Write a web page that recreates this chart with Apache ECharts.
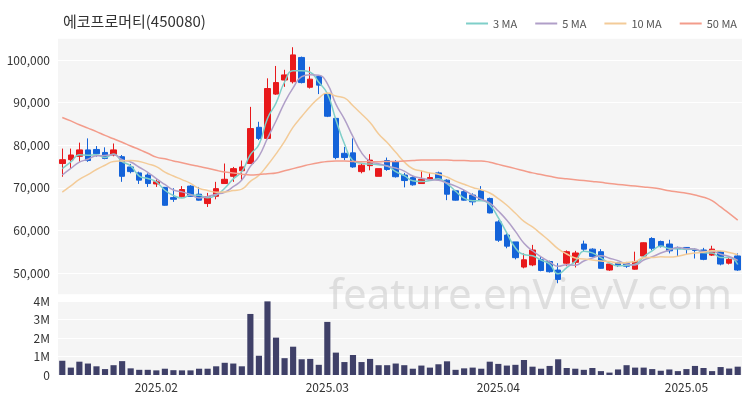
<!DOCTYPE html>
<html><head><meta charset="utf-8">
<script src="https://cdn.jsdelivr.net/npm/echarts@6/dist/echarts.min.js"></script>
<style>html,body{margin:0;padding:0;background:#fff}#c{width:750px;height:400px}</style>
</head><body><div id="c"></div>
<script>
const title = "에코프로머티(450080)";
const dates = (function(){
  const d=[];
  [13,14,15,16,17,20,21,22,23,24,31].forEach(x=>d.push("2025-01-"+String(x).padStart(2,"0")));
  [3,4,5,6,7,10,11,12,13,14,17,18,19,20,21,24,25,26,27,28].forEach(x=>d.push("2025-02-"+String(x).padStart(2,"0")));
  [4,5,6,7,10,11,12,13,14,17,18,19,20,21,24,25,26,27,28,31].forEach(x=>d.push("2025-03-"+String(x).padStart(2,"0")));
  [1,2,3,4,7,8,9,10,11,14,15,16,17,18,21,22,23,24,25,28,29,30].forEach(x=>d.push("2025-04-"+String(x).padStart(2,"0")));
  [2,7,8,9,12,13,14].forEach(x=>d.push("2025-05-"+String(x).padStart(2,"0")));
  return d;
})();
// [open, close, low, high] in thousands KRW
const candles = [
[75.7,76.6,72.6,79.2],[76.6,77.7,74.5,79.2],[77.4,78.9,76.1,80.6],[78.9,76.4,76.1,81.6],[79.0,78.0,77.3,79.8],
[78.3,76.9,76.7,79.5],[77.7,78.9,77.4,80.4],[77.3,72.7,71.4,77.7],[74.9,73.8,73.4,75.6],[73.5,71.8,70.9,73.8],
[73.0,71.0,70.2,73.4],[70.9,71.4,70.2,72.0],[70.1,65.9,65.8,70.2],[67.7,67.3,66.7,69.9],[67.9,69.6,67.7,70.4],
[70.4,68.0,67.9,70.6],[68.5,67.1,67.0,70.2],[66.3,67.9,65.5,68.8],[68.0,69.8,67.3,71.4],[71.0,72.0,70.9,75.7],
[72.7,74.5,71.4,74.9],[74.0,74.9,71.8,76.4],[75.7,83.9,75.6,89.0],[84.2,81.6,81.2,85.5],[81.6,93.3,81.4,95.7],
[92.0,94.7,91.8,98.6],[95.3,96.5,93.7,97.7],[94.9,101.2,94.5,103.0],[100.6,94.7,94.5,100.8],[93.6,95.5,93.3,98.4],
[96.1,94.1,92.0,96.2],[92.0,86.8,86.6,92.2],[86.3,77.1,76.7,86.3],[78.1,77.1,76.5,79.6],[78.2,74.9,74.7,81.6],
[73.8,75.3,73.4,75.7],[75.2,76.5,74.1,77.9],[72.7,74.5,72.7,74.5],[76.4,74.3,74.0,77.1],[76.1,72.6,72.4,76.5],
[73.0,71.7,70.1,73.5],[72.4,70.7,70.5,72.7],[71.0,72.0,70.9,74.0],[72.0,72.4,71.8,73.5],[73.5,72.0,71.8,73.8],
[71.8,68.5,67.1,72.0],[69.3,67.1,67.0,69.5],[69.1,67.1,67.0,69.5],[68.3,66.7,65.9,68.7],[69.3,67.1,67.0,70.4],
[67.5,64.1,64.0,67.7],[62.0,57.7,57.3,62.4],[58.9,56.3,55.8,59.3],[57.3,53.6,53.2,57.3],[51.4,53.1,51.1,54.6],
[51.9,55.4,51.6,56.6],[53.1,50.6,50.4,53.9],[52.7,50.3,50.1,52.9],[50.7,48.5,47.6,52.3],[52.3,55.0,51.6,55.3],
[52.5,54.7,51.3,55.2],[56.8,55.6,55.0,57.6],[55.6,53.9,53.7,55.8],[55.0,51.1,51.0,55.6],[50.7,52.1,50.5,52.2],
[52.4,51.8,51.4,52.6],[52.2,51.6,51.2,52.6],[50.9,52.7,50.8,55.0],[54.0,57.1,53.8,57.2],[58.1,55.8,55.3,58.4],
[57.4,56.2,56.0,57.6],[56.8,55.2,54.6,57.8],[56.0,55.7,53.9,56.2],[56.0,55.7,54.5,56.1],[55.5,55.3,53.4,55.8],
[55.4,53.2,53.0,55.9],[54.2,55.6,54.0,56.4],[55.0,52.1,51.8,55.2],[52.3,53.2,52.0,53.5],[54.0,50.7,50.5,54.6]
];
// closes before the window (thousands), estimated so the moving averages begin where the picture shows
const prevCloses = [63,64,65,66,67,70,71.5,73,73.9];
// 50-day MA (thousands)
const ma50 = [86.5,85.7,84.8,84.0,83.2,82.3,81.5,80.7,79.8,79.0,78.1,77.2,
76.8,76.3,75.9,75.4,75.0,74.6,74.1,73.7,
73.5,73.2,73.0,73.1,73.3,73.5,
74.0,74.5,75.0,75.5,75.9,76.2,76.3,
76.3,76.2,76.1,76.1,76.1,76.2,76.2,76.3,76.4,76.5,76.5,76.5,76.5,76.4,76.4,76.3,76.3,
76.0,75.5,75.0,74.5,74.0,73.5,73.1,72.7,72.3,
72.1,71.9,71.7,71.5,71.3,71.0,70.8,70.6,70.4,70.2,70.0,
69.7,69.3,69.0,68.7,68.3,67.8,67.0,65.5,64.0,62.4];
// volume in millions of shares
const volumes = [.77,.40,.72,.62,.47,.32,.53,.75,.36,.28,.28,.25,.34,.26,.25,.25,.34,.34,.47,.66,
.62,.47,3.3,1.04,3.98,2.02,.91,1.53,.85,.87,.55,2.87,1.21,.70,1.08,.70,.87,.53,.53,.62,
.53,.34,.51,.40,.58,.74,.28,.36,.40,.34,.72,.60,.51,.55,.81,.45,.34,.49,.85,.38,
.34,.28,.38,.21,.13,.30,.53,.40,.40,.32,.23,.30,.21,.32,.49,.38,.21,.43,.35,.45];
const priceTicks = [50000,60000,70000,80000,90000,100000];

const UP='#e8191b', DOWN='#1463d9';
const closes = candles.map(c=>c[1]);
const all = prevCloses.concat(closes);
function ma(n){return closes.map((_,i)=>{const j=i+prevCloses.length;let s=0;for(let k=j-n+1;k<=j;k++)s+=all[k];return +(s/n*1000).toFixed(0);});}
const kData = candles.map(c=>c.map(v=>v*1000));
const vData = volumes.map(v=>v*1e6);
const monthFirst = new Set();
dates.forEach((d,i)=>{if(i>0 && d.slice(5,7)!==dates[i-1].slice(5,7)) monthFirst.add(i);});
const font='"Noto Sans CJK KR","Noto Sans",sans-serif';
const chart = echarts.init(document.getElementById('c'));
chart.setOption({
  animation:false,
  backgroundColor:'#fff',
  textStyle:{fontFamily:font},
  title:{text:title,left:58,top:9,textStyle:{fontSize:15,fontWeight:'normal',color:'#333',fontFamily:font}},
  legend:{right:8,top:13,itemWidth:22,itemHeight:2,itemGap:18,icon:'rect',textStyle:{fontSize:11,color:'#555'},
    data:['3 MA','5 MA','10 MA','50 MA']},
  graphic:[
    {type:'rect',z:-100,shape:{x:58,y:38.7,width:684,height:255.6},style:{fill:'#f5f5f5'}},
    {type:'rect',z:-100,shape:{x:58,y:301,width:684,height:74},style:{fill:'#f5f5f5'}},
    {type:'text',right:18,top:276,z:1,style:{text:'feature.enVievV.com',fontSize:42,fill:'rgba(200,200,200,0.55)',fontFamily:'"Noto Sans",sans-serif'}}],
  grid:[{left:58,right:8,top:17.4,height:298.2,show:false},
        {left:58,right:8,top:301,height:74,show:false}],
  xAxis:[{type:'category',data:dates,gridIndex:0,axisLine:{show:false},axisTick:{show:false},axisLabel:{show:false},splitLine:{show:false}},
         {type:'category',data:dates,gridIndex:1,axisLine:{show:false},axisTick:{show:false},
          axisLabel:{interval:(i)=>monthFirst.has(i),formatter:v=>v.slice(0,7).replace('-','.'),color:'#333',fontSize:12,margin:6},
          splitLine:{show:false}}],
  yAxis:[{gridIndex:0,min:40000,max:110000,interval:10000,axisLine:{show:false},axisTick:{show:false},
          axisLabel:{color:'#333',fontSize:12,formatter:v=>priceTicks.includes(v)?v.toLocaleString('en-US'):''},
          splitLine:{show:false}},
         {gridIndex:1,min:0,max:4000000,interval:1000000,axisLine:{show:false},axisTick:{show:false},
          axisLabel:{color:'#333',fontSize:12,formatter:v=>v===0?'0':(v/1e6)+'M'},splitLine:{lineStyle:{color:'#fff',width:1}}}],
  series:[
    {type:'candlestick',data:kData,barWidth:'70%',itemStyle:{color:UP,color0:DOWN,borderColor:UP,borderColor0:DOWN,borderWidth:1},
     markLine:{silent:true,symbol:'none',label:{show:false},z:-1,lineStyle:{color:'#fff',width:1,type:'solid'},
       data:priceTicks.map(v=>({yAxis:v}))}},
    {name:'3 MA',type:'line',data:ma(3),showSymbol:false,smooth:true,lineStyle:{width:1.5,color:'#7fcfc9'},itemStyle:{color:'#7fcfc9'}},
    {name:'5 MA',type:'line',data:ma(5),showSymbol:false,smooth:true,lineStyle:{width:1.5,color:'#b09fc8'},itemStyle:{color:'#b09fc8'}},
    {name:'10 MA',type:'line',data:ma(10),showSymbol:false,smooth:true,lineStyle:{width:1.5,color:'#f3cb98'},itemStyle:{color:'#f3cb98'}},
    {name:'50 MA',type:'line',data:ma50.map(v=>v*1000),showSymbol:false,smooth:true,lineStyle:{width:1.5,color:'#f39c8b'},itemStyle:{color:'#f39c8b'}},
    {type:'bar',xAxisIndex:1,yAxisIndex:1,data:vData,barWidth:'72%',itemStyle:{color:'#3f4068'}}
  ]
});
</script></body></html>
